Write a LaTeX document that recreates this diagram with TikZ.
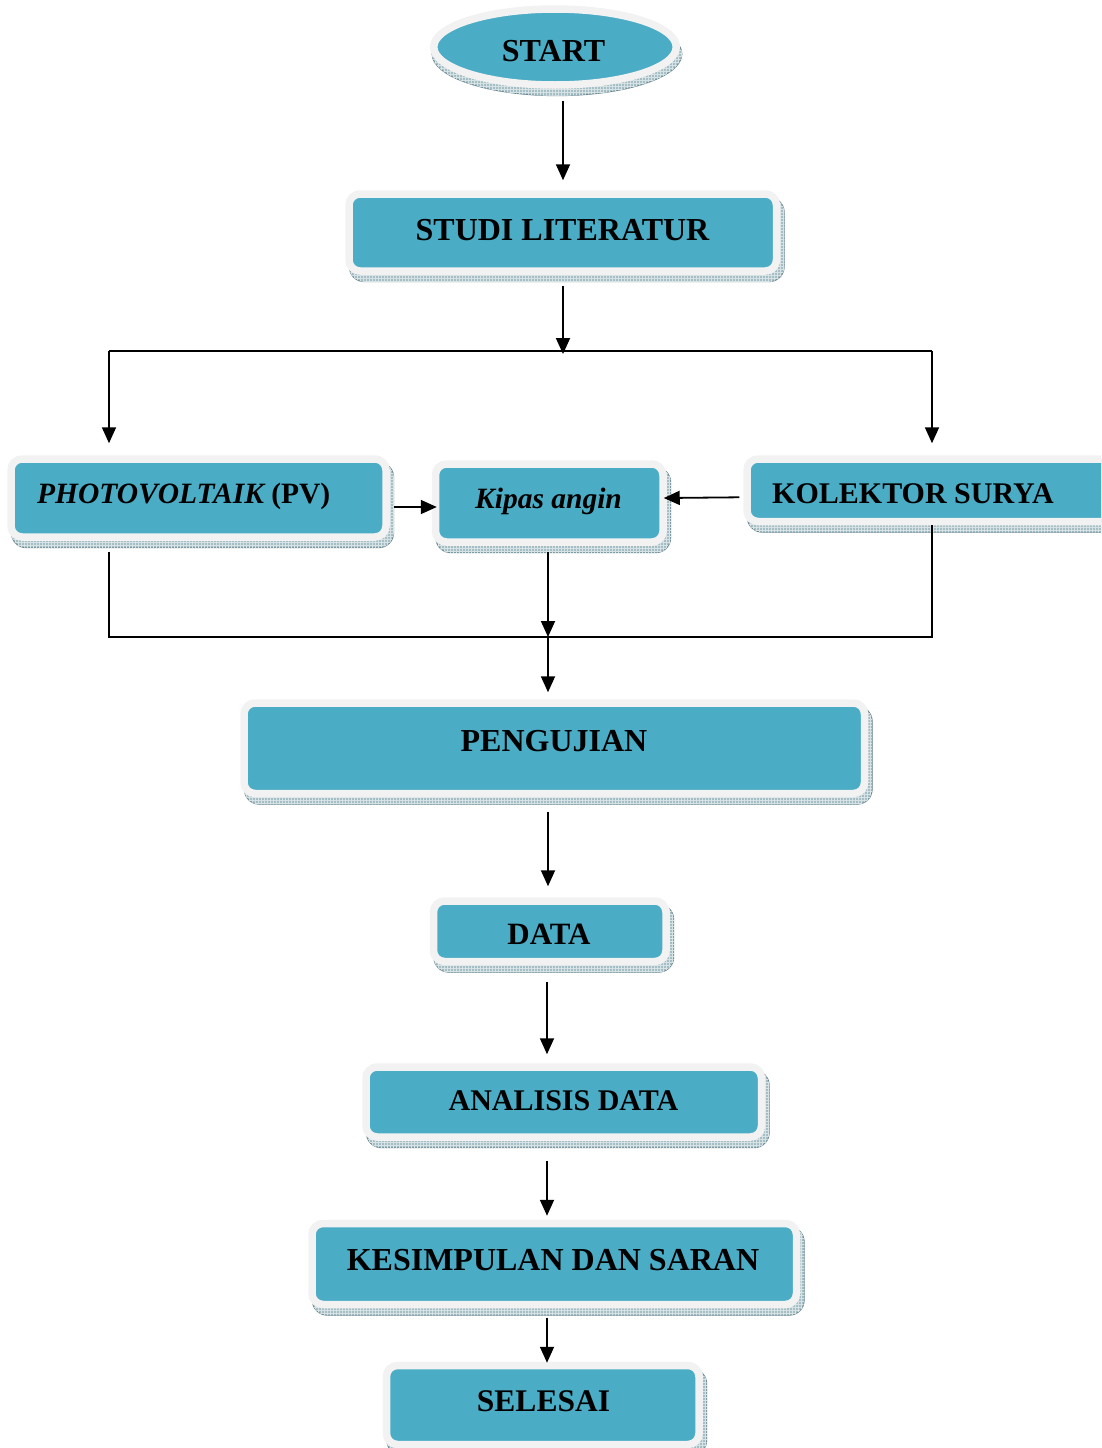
\documentclass[tikz,border=0pt]{standalone}
\usepackage{fontspec}
\setmainfont{Liberation Serif}
\usetikzlibrary{arrows.meta,shapes.geometric,calc,patterns}
\definecolor{tealf}{RGB}{75,172,198}
\definecolor{grayb}{RGB}{242,242,242}
\definecolor{shadowc}{RGB}{165,190,198}
\definecolor{shadowl}{RGB}{105,135,145}
\newcommand\fz[1]{\fontsize{#1}{#1}\selectfont\bfseries}
\newcommand\flowbox[5]{%
  \draw[shadowl, line width=0.8pt, fill=shadowc, rounded corners=15pt]
    ({#2-#4/2+0.25},{#3-#5/2+3.25}) rectangle ({#2+#4/2+7.75},{#3+#5/2+10.75});
  \fill[pattern=grid, pattern color=white!55!shadowc, rounded corners=15pt]
    ({#2-#4/2+0.25},{#3-#5/2+3.25}) rectangle ({#2+#4/2+7.75},{#3+#5/2+10.75});
  \node[flow, minimum width=#4pt, minimum height=#5pt] (#1) at (#2,#3) {};
}
\begin{document}
\begin{tikzpicture}[x=1pt,y=-1pt,
  flow/.style={draw=grayb, line width=7.5pt, fill=tealf, rounded corners=11pt, inner sep=0pt},
  arr/.style={line width=1.8pt, -{Triangle[length=16pt,width=14pt]}},
  ln/.style={line width=1.8pt},
  lbl/.style={anchor=base, inner sep=0pt}]
\useasboundingbox (0,0) rectangle (1101,1448);
\clip (0,0) rectangle (1101,1448);

% START ellipse
\draw[shadowl, line width=0.8pt, fill=shadowc] (557,54) ellipse [x radius=125pt, y radius=41.75pt];
\fill[pattern=grid, pattern color=white!55!shadowc] (557,54) ellipse [x radius=125pt, y radius=41.75pt];
\node[ellipse, draw=grayb, line width=7.5pt, fill=tealf, minimum width=242.5pt, minimum height=76pt, inner sep=0pt] (start) at (555,47) {};

% boxes
\flowbox{studi}{562.75}{232.5}{427.5}{77}
\flowbox{pv}{198.5}{498}{375}{78}
\flowbox{kipas}{549.25}{503}{227.5}{78}
\flowbox{kol}{938.5}{490.25}{383}{62.5}
\flowbox{pengujian}{554.25}{748.25}{620.5}{90.5}
\flowbox{data}{549.75}{931.25}{232.5}{60.5}
\flowbox{analisis}{563.75}{1102}{395.5}{70}
\flowbox{kes}{554.25}{1264}{484.5}{81}
\flowbox{selesai}{542.75}{1405}{312.5}{79}

% texts
\node[lbl, font=\fz{32}] (start-t) at (553.5,61.5) {START};
\node[lbl, font=\fz{32}] (studi-t) at (562.5,240) {STUDI LITERATUR};
\node[lbl, font=\fz{29.5}, anchor=base west] (pv-t) at (37,503) {{\itshape PHOTOVOLTAIK} (PV)};
\node[lbl, font=\fz{29.5}] (kipas-t) at (548.5,508) {\itshape Kipas angin};
\node[lbl, font=\fz{30}, anchor=base west] (kol-t) at (772,503) {KOLEKTOR SURYA};
\node[lbl, font=\fz{32}] (peng-t) at (554,751) {PENGUJIAN};
\node[lbl, font=\fz{31}] (data-t) at (549,944) {DATA};
\node[lbl, font=\fz{30}] (ana-t) at (563.5,1110) {ANALISIS DATA};
\node[lbl, font=\fz{32}] (kes-t) at (553,1270) {KESIMPULAN DAN SARAN};
\node[lbl, font=\fz{31.5}] (sel-t) at (543.5,1411) {SELESAI};

% connector reference points
\coordinate (colA) at (563,0);
\coordinate (colB) at (548,0);
\coordinate (colC) at (547,0);
\coordinate (split) at (563,351);
\coordinate (bl) at (109,351);
\coordinate (br) at (932,351);
\coordinate (ml) at (109,637);
\coordinate (mr) at (932,637);
\coordinate (merge) at (548,637);

% connectors
\draw[arr, shorten <=12pt, shorten >=10pt] (start.south -| colA) -- (studi.north -| colA);
\draw[arr, shorten <=11pt, shorten >=-3pt] (studi.south -| colA) -- (split);
\draw[ln] (bl) -- (br);
\draw[arr, shorten >=12pt] (bl) -- (bl |- pv.north);
\draw[arr, shorten >=12pt] (br) -- (br |- kol.north);
\draw[arr, shorten <=4pt, shorten >=-5pt] ($(pv.east)+(0,9)$) -- ($(kipas.west)+(0,4)$);
\draw[arr, shorten <=4pt, shorten >=-3pt] ($(kol.west)+(0,7)$) -- ($(kipas.east)+(0,-5)$);
\draw[ln, shorten <=11pt] (pv.south -| bl) -- (ml) -- (mr) -- (kol.south -| br);
\draw[arr, shorten <=6pt, shorten >=0pt] (kipas.south -| colB) -- (merge);
\draw[arr, shorten >=7pt] (merge) -- (pengujian.north -| colB);
\draw[arr, shorten <=14.5pt, shorten >=11pt] (pengujian.south -| colB) -- (data.north -| colB);
\draw[arr, shorten <=16.5pt, shorten >=9pt] (data.south -| colC) -- (analisis.north -| colC);
\draw[arr, shorten <=20pt, shorten >=4pt] (analisis.south -| colC) -- (kes.north -| colC);
\draw[arr, shorten <=9.5pt, shorten >=-1pt] (kes.south -| colC) -- (selesai.north -| colC);
\end{tikzpicture}
\end{document}
